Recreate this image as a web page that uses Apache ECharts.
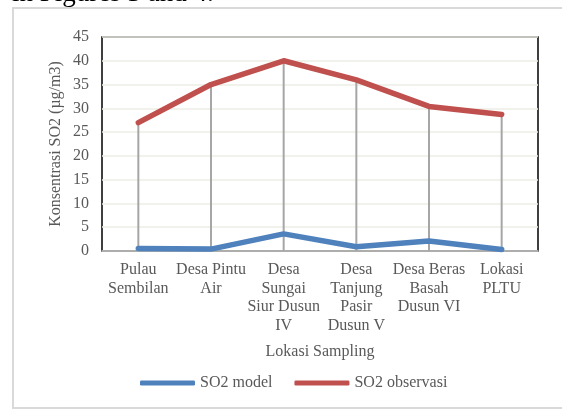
<!DOCTYPE html>
<html>
<head>
<meta charset="utf-8">
<script src="https://cdn.jsdelivr.net/npm/echarts@6/dist/echarts.min.js"></script>
<style>
  html, body { margin: 0; padding: 0; background: #fff; }
  #chart { width: 562px; height: 409px; }
</style>
</head>
<body>
<div id="chart"></div>
<script>
// lokasi sampling
var categories = ['Pulau\nSembilan', 'Desa Pintu\nAir', 'Desa\nSungai\nSiur Dusun\nIV', 'Desa\nTanjung\nPasir\nDusun V', 'Desa Beras\nBasah\nDusun VI', 'Lokasi\nPLTU'];
var so2Model = [0.5, 0.4, 3.6, 0.9, 2.1, 0.3];
var so2Observasi = [27, 35, 40, 36, 30.4, 28.7];
var yTicks = [0, 45, 5]; // min, max, step

var serif = '"Liberation Serif", "Times New Roman", serif';
var txtGray = '#595959';

var myChart = echarts.init(document.getElementById('chart'));
var option = {
    animation: false,
    textStyle: { fontFamily: serif },
    graphic: [
        {
            type: 'rect',
            shape: { x: 13, y: 8, width: 560, height: 400 },
            style: { fill: 'none', stroke: '#d9d9d9', lineWidth: 2 }
        },
        {
            type: 'text',
            left: 12, top: -20,
            style: { text: 'in Figures 3 and 4.', font: '27px ' + serif, fill: '#000' }
        }
    ],
    grid: {
        left: 102, right: 24, top: 37, bottom: 158,
        show: true, borderColor: '#000', borderWidth: 1.5
    },
    legend: {
        data: ['SO2 model', 'SO2 observasi'],
        bottom: 13,
        left: 135,
        itemWidth: 55, itemHeight: 5, itemGap: 22,
        icon: 'roundRect',
        textStyle: { fontFamily: serif, fontSize: 16, color: txtGray }
    },
    xAxis: {
        type: 'category',
        data: categories,
        boundaryGap: true,
        name: 'Lokasi Sampling',
        nameLocation: 'middle',
        nameGap: 93,
        nameMoveOverlap: false,
        nameTextStyle: { fontFamily: serif, fontSize: 16, color: txtGray },
        axisLine: { lineStyle: { color: '#a6a6a6', width: 1.5 } },
        axisTick: { show: false },
        axisLabel: {
            interval: 0, fontFamily: serif, fontSize: 16, color: txtGray,
            lineHeight: 18.5, margin: 10, verticalAlign: 'top'
        },
        splitLine: { show: false }
    },
    yAxis: {
        type: 'value',
        min: yTicks[0], max: yTicks[1], interval: yTicks[2],
        name: 'Konsentrasi SO2 (µg/m3)',
        nameLocation: 'middle',
        nameGap: 38,
        nameMoveOverlap: false,
        nameTextStyle: { fontFamily: serif, fontSize: 16, color: txtGray },
        axisLine: { show: false },
        axisTick: { show: false },
        axisLabel: { fontFamily: serif, fontSize: 16, color: txtGray, margin: 13 },
        splitLine: { lineStyle: { color: '#eeeee6', width: 1.5 } }
    },
    series: [
        {
            // garis bantu vertikal (drop lines)
            name: 'drop',
            type: 'bar',
            data: so2Observasi,
            barWidth: 2,
            itemStyle: { color: '#a6a6a6' },
            silent: true,
            z: 1
        },
        {
            name: 'SO2 model',
            type: 'line',
            data: so2Model,
            symbol: 'none',
            lineStyle: { color: '#4f81bd', width: 5.5, cap: 'round', join: 'round' },
            itemStyle: { color: '#4f81bd' },
            z: 3
        },
        {
            name: 'SO2 observasi',
            type: 'line',
            data: so2Observasi,
            symbol: 'none',
            lineStyle: { color: '#c0504d', width: 5.5, cap: 'round', join: 'round' },
            itemStyle: { color: '#c0504d' },
            z: 3
        }
    ]
};
myChart.setOption(option);
</script>
</body>
</html>
